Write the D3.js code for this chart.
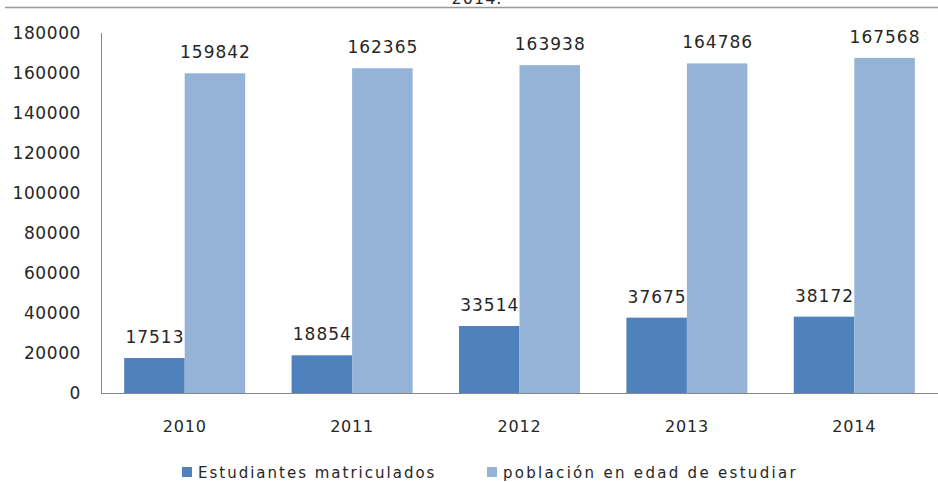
<!DOCTYPE html>
<html>
<head>
<meta charset="utf-8">
<script src="https://cdn.jsdelivr.net/npm/d3@7"></script>
<style>
  body { margin: 0; background: #fff; }
  text { font-family: "DejaVu Sans", sans-serif; fill: #262626; }
</style>
</head>
<body>
<div id="viz"></div>
<script>
// data
let years = ["2010", "2011", "2012", "2013", "2014"]
let matriculados = [17513, 18854, 33514, 37675, 38172]
let poblacion = [159842, 162365, 163938, 164786, 167568]
let seriesNames = ["Estudiantes matriculados", "población en edad de estudiar"]
let yTicks = [0, 20000, 40000, 60000, 80000, 100000, 120000, 140000, 160000, 180000]
let colors = ["#4F81BD", "#95B3D7"]

let svgWidth = 938
let svgHeight = 482
let margin = { left: 101, right: 0, top: 33, bottom: 89 }

const svg = d3.select('#viz')
    .append('svg')
    .attr('width', svgWidth)
    .attr('height', svgHeight)

// title, cut off at the top as in the source image + top rule
svg.append('text')
    .attr('x', 477)
    .attr('y', 4)
    .attr('text-anchor', 'middle')
    .style('font-size', '16px')
    .style('letter-spacing', '1px')
    .text('2014.')
svg.append('line')
    .attr('x1', 5).attr('x2', svgWidth)
    .attr('y1', 7.5).attr('y2', 7.5)
    .attr('stroke', '#999')
    .attr('stroke-width', 1.5)

let xScale = d3.scaleBand()
    .domain(years)
    .range([margin.left, svgWidth - margin.right])
    .paddingInner(0.277)
    .paddingOuter(0.1385)

let subScale = d3.scaleBand()
    .domain([0, 1])
    .range([0, xScale.bandwidth()])

let yScale = d3.scaleLinear()
    .domain([0, 180000])
    .range([svgHeight - margin.bottom, margin.top])

// y axis labels
svg.append('g')
    .selectAll('text')
    .data(yTicks)
    .join('text')
    .attr('x', 81)
    .attr('y', d => yScale(d))
    .attr('dy', '0.36em')
    .attr('text-anchor', 'end')
    .style('font-size', '17px')
    .style('letter-spacing', '0.6px')
    .text(d => d)

let rows = years.map((y, i) => ({ year: y, vals: [matriculados[i], poblacion[i]] }))

let groups = svg.append('g')
    .selectAll('g')
    .data(rows)
    .join('g')
    .attr('transform', d => `translate(${xScale(d.year)},0)`)

groups.selectAll('rect')
    .data(d => d.vals)
    .join('rect')
    .attr('x', (d, i) => subScale(i))
    .attr('width', subScale.bandwidth())
    .attr('y', d => yScale(d))
    .attr('height', d => yScale(0) - yScale(d))
    .attr('fill', (d, i) => colors[i])

groups.selectAll('text')
    .data(d => d.vals)
    .join('text')
    .attr('x', (d, i) => subScale(i) + subScale.bandwidth() / 2 + 0.5)
    .attr('y', d => yScale(d) - 15)
    .attr('text-anchor', 'middle')
    .style('font-size', '17px')
    .style('letter-spacing', '1px')
    .text(d => d)

// axes lines
svg.append('line')
    .attr('x1', margin.left + 0.5).attr('x2', margin.left + 0.5)
    .attr('y1', margin.top).attr('y2', yScale(0))
    .attr('stroke', '#868686')
svg.append('line')
    .attr('x1', margin.left).attr('x2', svgWidth)
    .attr('y1', yScale(0) + 0.5).attr('y2', yScale(0) + 0.5)
    .attr('stroke', '#868686')

// x labels
svg.append('g')
    .selectAll('text')
    .data(years)
    .join('text')
    .attr('x', d => xScale(d) + xScale.bandwidth() / 2)
    .attr('y', 432)
    .attr('text-anchor', 'middle')
    .style('font-size', '16px')
    .style('letter-spacing', '0.8px')
    .text(d => d)

// legend
let legendX = [182, 487]
let legend = svg.append('g')
    .selectAll('g')
    .data(seriesNames)
    .join('g')
    .attr('transform', (d, i) => `translate(${legendX[i]},467)`)
legend.append('rect')
    .attr('width', 10).attr('height', 10)
    .attr('fill', (d, i) => colors[i])
legend.append('text')
    .attr('x', 16)
    .attr('y', 10.5)
    .style('font-size', '15px')
    .style('letter-spacing', (d, i) => i ? '2.3px' : '2px')
    .text(d => d)
</script>
</body>
</html>
